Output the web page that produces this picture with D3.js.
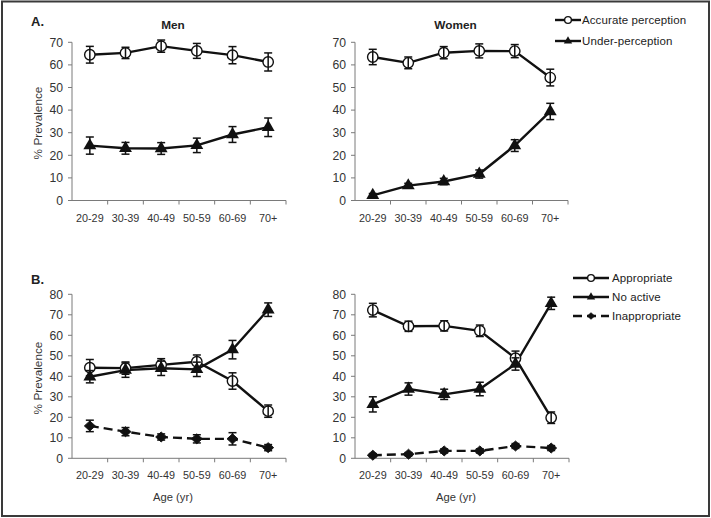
<!DOCTYPE html>
<html><head><meta charset="utf-8">
<script src="https://cdn.jsdelivr.net/npm/d3@7"></script>
<style>body{margin:0;background:#fff}svg{display:block}text{font-family:"Liberation Sans",Arial,sans-serif}</style>
</head><body><svg id="c" width="711" height="518"></svg>
<script>
const categories = ["20-29","30-39","40-49","50-59","60-69","70+"];
const yTicksA = [0,10,20,30,40,50,60,70];
const yTicksB = [0,10,20,30,40,50,60,70,80];

const menAccurate = [64.5, 65.3, 68.3, 66.2, 64.3, 61.3];
const menAccurateErr = [3.7, 2.5, 2.7, 3.3, 3.8, 4.0];
const menUnder = [24.3, 23.1, 23.0, 24.4, 29.2, 32.4];
const menUnderErr = [3.8, 2.6, 2.6, 3.2, 3.5, 4.1];
const womenAccurate = [63.5, 60.9, 65.4, 66.2, 66.1, 54.4];
const womenAccurateErr = [3.4, 2.6, 2.7, 3.1, 2.9, 3.7];
const womenUnder = [2.3, 6.6, 8.4, 11.7, 24.3, 39.4];
const womenUnderErr = [0.8, 1.0, 1.4, 1.8, 2.6, 3.6];

const menApprop = [44.2, 44.0, 45.6, 47.1, 37.7, 23.0];
const menApropErr = [4.0, 3.0, 3.0, 3.3, 4.0, 3.0];
const menNoActive = [39.8, 43.0, 43.9, 43.4, 53.0, 72.5];
const menNoActiveErr = [3.0, 3.5, 3.5, 3.5, 4.5, 3.3];
const menInapp = [15.8, 13.0, 10.4, 9.5, 9.5, 5.2];
const menInappErr = [2.8, 2.0, 1.5, 2.0, 3.0, 1.5];
const womenApprop = [72.3, 64.4, 64.6, 62.2, 48.8, 19.8];
const womenApropErr = [3.3, 2.5, 2.5, 2.8, 3.5, 2.8];
const womenNoActive = [26.3, 33.8, 31.2, 33.8, 46.0, 75.6];
const womenNoActiveErr = [3.7, 3.0, 2.5, 3.3, 3.0, 3.0];
const womenInapp = [1.5, 2.0, 3.6, 3.6, 6.0, 5.0];
const womenInappErr = [0.8, 0.8, 1.0, 1.0, 1.2, 1.2];

const legendA = ["Accurate perception","Under-perception"];
const legendB = ["Appropriate","No active","Inappropriate"];

const svg = d3.select("#c");
svg.append("rect").attr("x",2).attr("y",1.5).attr("width",707).attr("height",514.5)
  .attr("fill","#fff").attr("stroke","#3a3a3a").attr("stroke-width",2);

function marker(g, type, x, y, s) {
  if (type === "circle") {
    g.append("circle").attr("cx",x).attr("cy",y).attr("r",5.2*s)
      .attr("fill","#fff").attr("stroke","#111").attr("stroke-width",1.4);
  } else if (type === "triangle") {
    const sym = d3.symbol().type(d3.symbolTriangle).size(72*s*s);
    g.append("path").attr("d",sym()).attr("transform",`translate(${x},${y})`).attr("fill","#111");
  } else {
    const sym = d3.symbol().type(d3.symbolSquare).size(50*s*s);
    g.append("path").attr("d",sym()).attr("transform",`translate(${x},${y}) scale(1.1,1) rotate(45)`)
      .attr("fill","#111").attr("stroke","#111").attr("stroke-width",0.8).attr("stroke-linejoin","round");
  }
}

function panel(opts) {
  const {x0,x1,yBottom,yTop,domainMax,ticks,series,title,xlabel} = opts;
  const g = svg.append("g");
  const x = d3.scaleBand().domain(categories).range([x0,x1]).padding(0);
  const y = d3.scaleLinear().domain([0,domainMax]).range([yBottom,yTop]);
  const axisColor = "#7a7a7a";
  g.append("line").attr("x1",x0).attr("x2",x0).attr("y1",y(0)).attr("y2",y(domainMax))
    .attr("stroke",axisColor).attr("stroke-width",1);
  ticks.forEach(t => {
    g.append("line").attr("x1",x0-4).attr("x2",x0).attr("y1",y(t)).attr("y2",y(t))
      .attr("stroke",axisColor).attr("stroke-width",1);
    g.append("text").attr("x",x0-9).attr("y",y(t)).attr("dy","0.36em").attr("text-anchor","end")
      .attr("font-size",12.2).attr("fill","#333").text(t);
  });
  g.append("line").attr("x1",x0).attr("x2",x1).attr("y1",y(0)).attr("y2",y(0))
    .attr("stroke",axisColor).attr("stroke-width",1);
  categories.forEach((c,i) => {
    const bx = x(c) + x.bandwidth();
    g.append("line").attr("x1",bx).attr("x2",bx).attr("y1",y(0)).attr("y2",y(0)+4)
      .attr("stroke",axisColor).attr("stroke-width",1);
    g.append("text").attr("x",x(c)+x.bandwidth()/2).attr("y",y(0)+21).attr("text-anchor","middle")
      .attr("font-size",10.8).attr("fill","#333").text(c);
  });
  if (title) g.append("text").attr("x",(x0+x1)/2 - 6).attr("y",29).attr("text-anchor","middle")
    .attr("font-size",11.8).attr("font-weight","bold").attr("fill","#222").text(title);
  if (xlabel) g.append("text").attr("x",(x0+x1)/2 - 6).attr("y",yBottom+43).attr("text-anchor","middle")
    .attr("font-size",11.2).attr("fill","#333").text(xlabel);
  const cx = c => x(c) + x.bandwidth()/2;
  series.forEach(s => {
    const line = d3.line().x((d,i)=>cx(categories[i])).y(d=>y(d));
    g.append("path").attr("d",line(s.values)).attr("fill","none").attr("stroke","#111")
      .attr("stroke-width",2.4).attr("stroke-dasharray",s.dash ? "9,5" : null);
  });
  series.forEach(s => {
    s.values.forEach((v,i) => marker(g, s.type, cx(categories[i]), y(v), 1));
    s.values.forEach((v,i) => {
      const px = cx(categories[i]);
      const e = s.err[i];
      g.append("line").attr("x1",px).attr("x2",px).attr("y1",y(v+e)).attr("y2",y(v-e))
        .attr("stroke","#111").attr("stroke-width",1.5);
      [v+e, v-e].forEach(w => g.append("line").attr("x1",px-4).attr("x2",px+4).attr("y1",y(w)).attr("y2",y(w))
        .attr("stroke","#111").attr("stroke-width",1.5));
    });
  });
}

function ylabel(cx, cy) {
  svg.append("text").attr("transform",`translate(${cx},${cy}) rotate(-90)`).attr("text-anchor","middle")
    .attr("dy","0.35em").attr("font-size",11.8).attr("fill","#333").text("% Prevalence");
}

panel({x0:72,x1:286,yBottom:200.5,yTop:42.3,domainMax:70,ticks:yTicksA,title:"Men",
  series:[{values:menAccurate,err:menAccurateErr,type:"circle"},{values:menUnder,err:menUnderErr,type:"triangle"}]});
panel({x0:355,x1:568,yBottom:200.5,yTop:42.3,domainMax:70,ticks:yTicksA,title:"Women",
  series:[{values:womenAccurate,err:womenAccurateErr,type:"circle"},{values:womenUnder,err:womenUnderErr,type:"triangle"}]});
panel({x0:72,x1:286,yBottom:458.3,yTop:294.3,domainMax:80,ticks:yTicksB,xlabel:"Age (yr)",
  series:[{values:menApprop,err:menApropErr,type:"circle"},{values:menNoActive,err:menNoActiveErr,type:"triangle"},{values:menInapp,err:menInappErr,type:"diamond",dash:true}]});
panel({x0:355,x1:569,yBottom:458.3,yTop:294.3,domainMax:80,ticks:yTicksB,xlabel:"Age (yr)",
  series:[{values:womenApprop,err:womenApropErr,type:"circle"},{values:womenNoActive,err:womenNoActiveErr,type:"triangle"},{values:womenInapp,err:womenInappErr,type:"diamond",dash:true}]});

ylabel(38,123);
ylabel(38,378);
svg.append("text").attr("x",31).attr("y",26).attr("font-size",13).attr("font-weight","bold").attr("fill","#222").text("A.");
svg.append("text").attr("x",31).attr("y",284).attr("font-size",13).attr("font-weight","bold").attr("fill","#222").text("B.");

function legend(items, types, dashes, lx0, lx1, tx, ys) {
  items.forEach((t,i) => {
    const yy = ys[i];
    svg.append("line").attr("x1",lx0).attr("x2",lx1).attr("y1",yy).attr("y2",yy)
      .attr("stroke","#111").attr("stroke-width",2.4).attr("stroke-dasharray",dashes[i] ? "9,5" : null);
    const g = svg.append("g");
    marker(g, types[i], (lx0+lx1)/2, yy, 0.65);
    svg.append("text").attr("x",tx).attr("y",yy).attr("dy","0.35em").attr("font-size",11.5)
      .attr("fill","#222").attr("letter-spacing",0.1).text(t);
  });
}
legend(legendA, ["circle","triangle"], [false,false], 555, 581, 582, [20,41]);
legend(legendB, ["circle","triangle","diamond"], [false,false,true], 573, 609, 612, [278,297,316]);
</script></body></html>
